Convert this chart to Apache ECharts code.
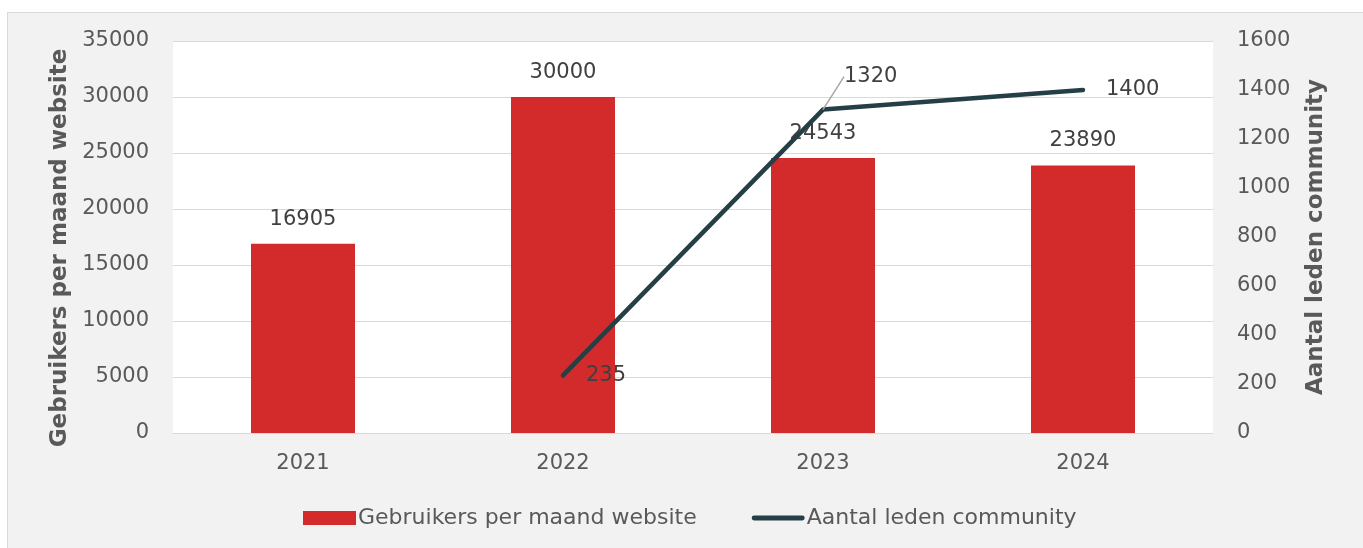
<!DOCTYPE html>
<html>
<head>
<meta charset="utf-8">
<script src="https://cdn.jsdelivr.net/npm/echarts@6/dist/echarts.min.js"></script>
<style>
html,body{margin:0;padding:0;background:#fff;width:1363px;height:548px;overflow:hidden;}
#box{position:absolute;left:7px;top:12px;width:1355px;height:535px;border:1px solid #d9d9d9;border-right:none;border-bottom:none;}
#chart{width:100%;height:100%;}
</style>
</head>
<body>
<div id="box"><div id="chart"></div></div>
<script>
const categories = ['2021', '2022', '2023', '2024'];
const websiteUsers = [16905, 30000, 24543, 23890];
const communityMembers = [null, 235, 1320, 1400];
const leftTicks = {min: 0, max: 35000, interval: 5000};
const rightTicks = {min: 0, max: 1600, interval: 200};

const FONT = '"DejaVu Sans", sans-serif';
const LINE_COLOR = '#243f45';

// label of the 2023 community point sits above-right with a leader line
const communityData = communityMembers.map((v, i) => (
  i === 2 ? {value: v, labelLine: {show: true}} : v
));

const chart = echarts.init(document.getElementById('chart'));
chart.setOption({
  backgroundColor: '#f2f2f2',
  animation: false,
  textStyle: {fontFamily: FONT},
  grid: {left: 165, right: 150, top: 28, bottom: 115, show: true, backgroundColor: '#ffffff', borderWidth: 0},
  legend: {
    top: 489,
    left: 290,
    itemGap: 55,
    itemWidth: 53,
    itemHeight: 14,
    textStyle: {fontSize: 22, color: '#595959', fontFamily: FONT, padding: [0, 0, 0, -3]},
    data: [
      {name: 'Gebruikers per maand website', icon: 'rect', itemStyle: {color: '#d32b2b'}},
      {name: 'Aantal leden community', icon: 'path://M2.5,0 H51.5 A2.5,2.5 0 0 1 51.5,5 H2.5 A2.5,2.5 0 0 1 2.5,0 Z', itemStyle: {color: LINE_COLOR, opacity: 1}}
    ]
  },
  xAxis: {
    type: 'category',
    data: categories,
    axisLine: {lineStyle: {color: '#d9d9d9', width: 1}},
    axisTick: {show: false},
    axisLabel: {fontSize: 21, color: '#595959', margin: 20, fontFamily: FONT}
  },
  yAxis: [
    {
      type: 'value',
      min: leftTicks.min, max: leftTicks.max, interval: leftTicks.interval,
      name: 'Gebruikers per maand website',
      nameLocation: 'middle',
      nameGap: 100,
      nameTextStyle: {fontSize: 23, fontWeight: 'bold', color: '#595959', fontFamily: FONT, padding: [0, 22, 0, 0]},
      axisLabel: {fontSize: 21, color: '#595959', margin: 24, fontFamily: FONT, formatter: v => String(v)},
      axisLine: {show: false},
      axisTick: {show: false},
      splitLine: {lineStyle: {color: '#d9d9d9', width: 1}}
    },
    {
      type: 'value',
      min: rightTicks.min, max: rightTicks.max, interval: rightTicks.interval,
      name: 'Aantal leden community',
      nameLocation: 'middle',
      nameGap: 92,
      nameRotate: 90,
      nameTextStyle: {fontSize: 23, fontWeight: 'bold', color: '#595959', fontFamily: FONT},
      axisLabel: {fontSize: 21, color: '#595959', margin: 24, fontFamily: FONT, formatter: v => String(v)},
      axisLine: {show: false},
      axisTick: {show: false},
      splitLine: {show: false}
    }
  ],
  series: [
    {
      name: 'Gebruikers per maand website',
      type: 'bar',
      data: websiteUsers,
      barWidth: '40%',
      itemStyle: {color: '#d32b2b'},
      label: {show: true, position: 'top', distance: 14, fontSize: 21, color: '#404040', fontFamily: FONT}
    },
    {
      name: 'Aantal leden community',
      type: 'line',
      yAxisIndex: 1,
      data: communityData,
      symbol: 'circle',
      symbolSize: 0,
      showSymbol: true,
      connectNulls: false,
      lineStyle: {color: LINE_COLOR, width: 4.5, cap: 'round', join: 'round'},
      itemStyle: {color: LINE_COLOR},
      label: {show: true, position: 'right', distance: 23, fontSize: 21, color: '#404040', fontFamily: FONT},
      labelLine: {show: false, lineStyle: {color: '#a6a6a6', width: 1.5}, length2: 0},
      labelLayout: function (p) {
        if (p.dataIndex === 2) {
          return {dx: -2, dy: -33};
        }
        return {};
      },
      z: 5
    }
  ]
});
</script>
</body>
</html>
